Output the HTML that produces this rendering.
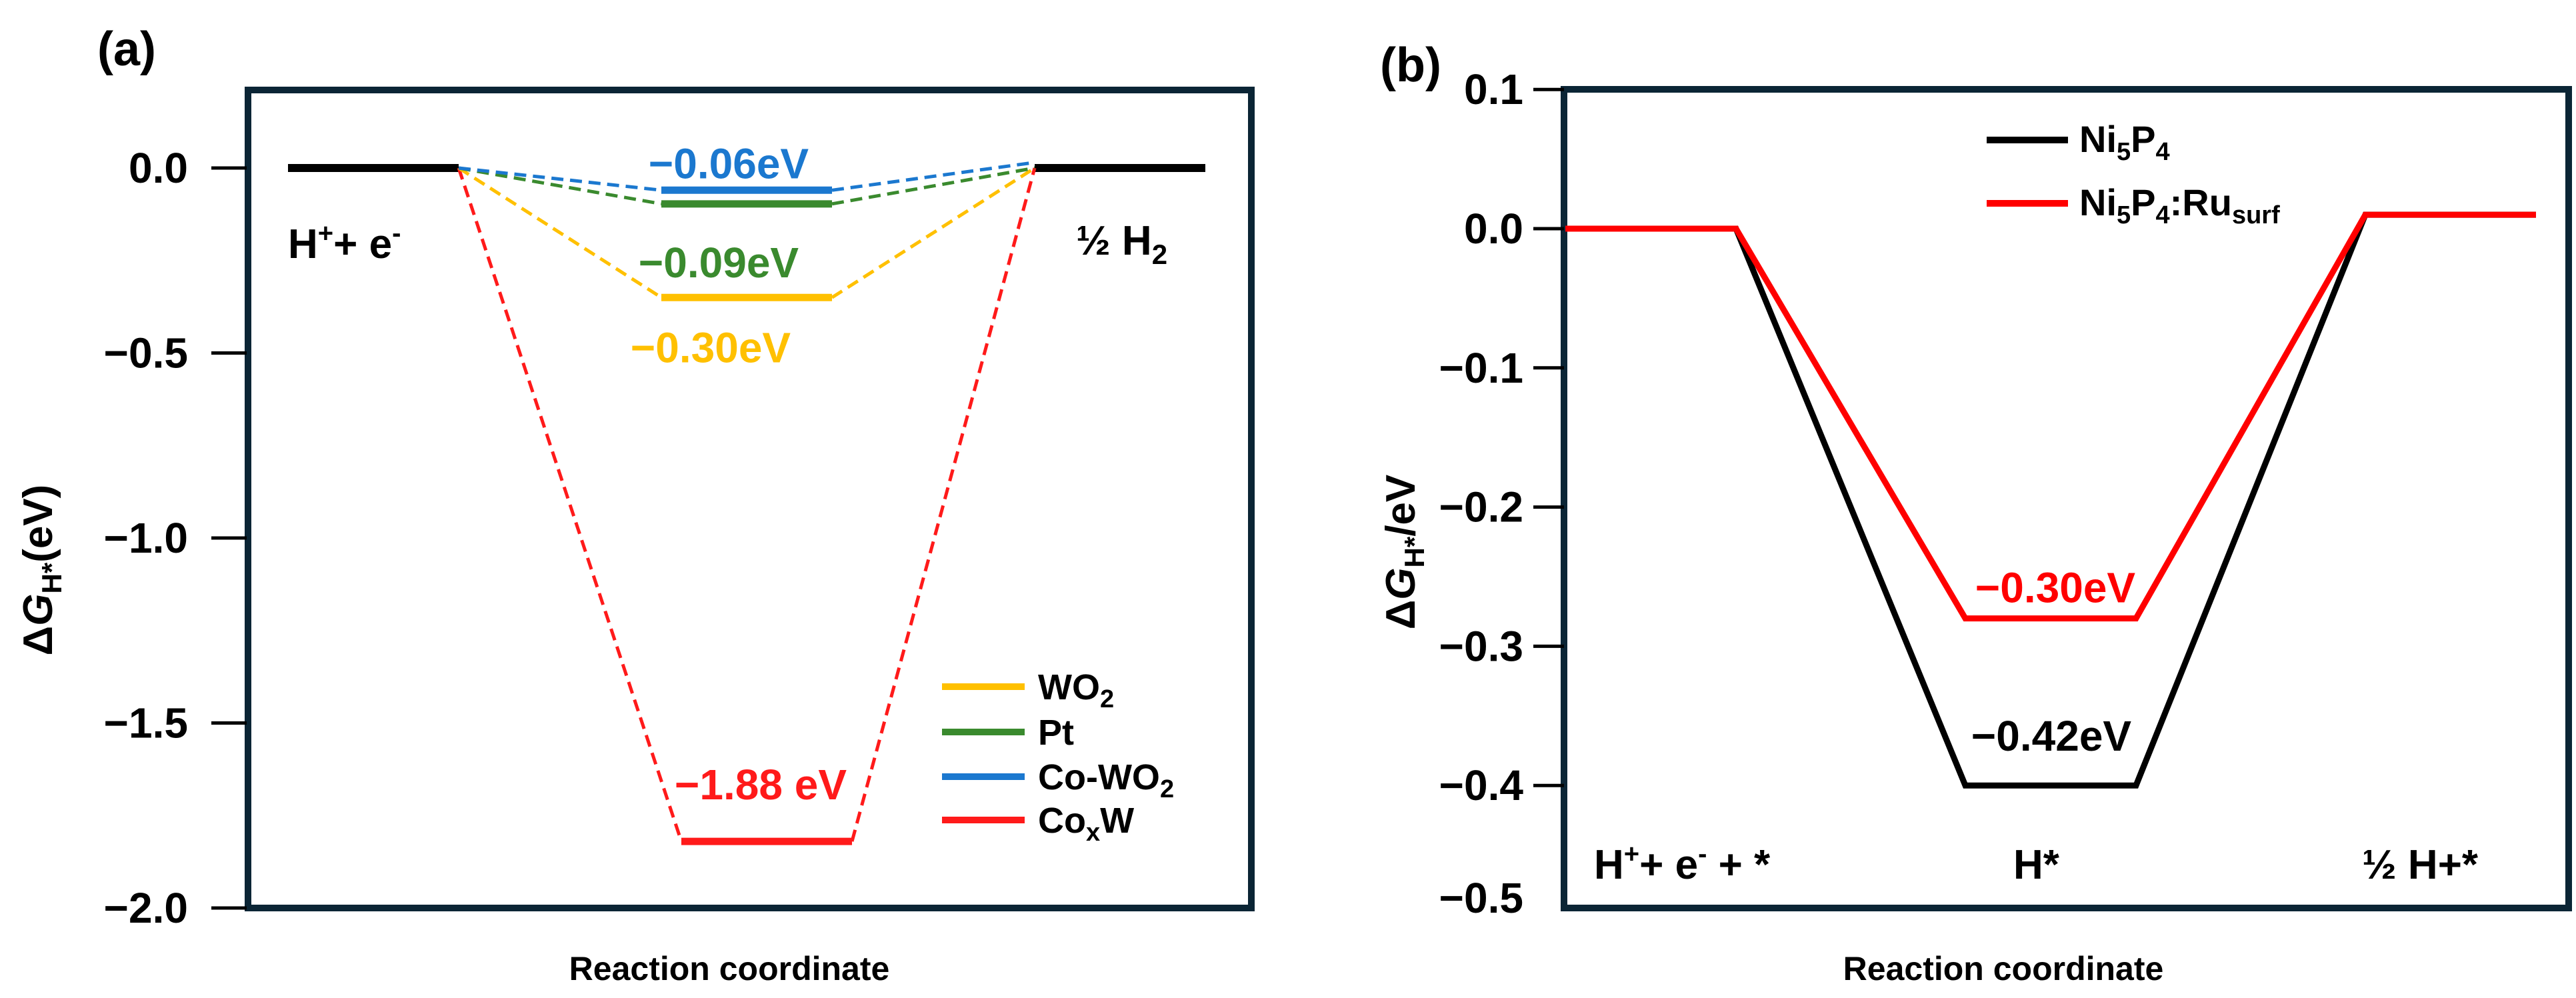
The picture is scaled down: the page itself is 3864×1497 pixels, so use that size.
<!DOCTYPE html>
<html><head><meta charset="utf-8"><style>
html,body{margin:0;padding:0;background:#fff;}
svg{display:block;font-family:"Liberation Sans",sans-serif;font-weight:bold;}
</style></head><body>
<svg id="chart" width="3864" height="1497" viewBox="0 0 3864 1497" xmlns="http://www.w3.org/2000/svg">
<g id="pa"></g>
<g id="pb"></g>
</svg>
<script>
// ---------- Panel (a) data ----------
const stagesA = ["H⁺+ e⁻", "H*", "½ H₂"];
const seriesNamesA = ["WO2", "Pt", "Co-WO2", "CoxW"];
const seriesColorsA = ["#ffc000", "#3a8a2e", "#1b78cf", "#ff1a1a"];
const valuesWO2 = [0, -0.35, 0];
const valuesPt = [0, -0.097, 0];
const valuesCoWO2 = [0, -0.06, 0.015];
const valuesCoxW = [0, -1.82, 0];
const labelsA = ["−0.30eV", "−0.09eV", "−0.06eV", "−1.88 eV"];
const ticksA = [0.0, -0.5, -1.0, -1.5, -2.0];
const tickLabelsA = ["0.0", "−0.5", "−1.0", "−1.5", "−2.0"];
// ---------- Panel (b) data ----------
const stagesB = ["H⁺+ e⁻ + *", "H*", "½ H+*"];
const valuesNi5P4 = [0, -0.40, 0.01];
const valuesRu = [0, -0.28, 0.01];
const labelsB = ["−0.42eV", "−0.30eV"];
const ticksB = [0.1, 0.0, -0.1, -0.2, -0.3, -0.4, -0.5];
const tickLabelsB = ["0.1", "0.0", "−0.1", "−0.2", "−0.3", "−0.4", "−0.5"];

const NS = "http://www.w3.org/2000/svg";
function mk(parent, tag, attrs, text) {
  const e = document.createElementNS(NS, tag);
  for (const k in attrs) e.setAttribute(k, attrs[k]);
  if (text !== undefined) e.textContent = text;
  parent.appendChild(e);
  return e;
}
const FRAME = "#0b2535";

// ================= Panel A =================
(function () {
  const g = document.getElementById("pa");
  const yA = v => 252 - v * 555;
  const xA = i => 560 + i * 560;
  const hw = 128;

  let t = mk(g, "text", {x: 146, y: 98, "font-size": 72}, "(a)");
  
  

  let fr = mk(g, "rect", {x: 372, y: 135, width: 1505, height: 1227, fill: "none", stroke: FRAME, "stroke-width": 10});
  
  

  ticksA.forEach((v, i) => {
    const tk = mk(g, "line", {x1: 317, x2: 370, y1: yA(v), y2: yA(v), stroke: "#000", "stroke-width": 5});
    
    
    const tl = mk(g, "text", {x: 282, y: yA(v), "text-anchor": "end", "dominant-baseline": "central", "font-size": 64}, tickLabelsA[i]);
    
    
  });

  const yt = mk(g, "text", {x: 0, y: 0, transform: "translate(78,855) rotate(-90)", "text-anchor": "middle", "font-size": 62});
  
  
  yt.innerHTML = 'Δ<tspan font-style="italic">G</tspan><tspan font-size="42" dy="14">H*</tspan><tspan dy="-14">(eV)</tspan>';

  const xt = mk(g, "text", {x: 1094, y: 1470, "text-anchor": "middle", "font-size": 50}, "Reaction coordinate");
  
  

  // black endpoint levels
  [0, 2].forEach(i => {
    const l = mk(g, "line", {x1: xA(i) - hw, x2: xA(i) + hw, y1: yA(0), y2: yA(0), stroke: "#000", "stroke-width": 12});
    
    
  });

  const allVals = [valuesWO2, valuesPt, valuesCoWO2, valuesCoxW];
  // draw red first (behind), then yellow, green, blue
  [3, 0, 1, 2].forEach(s => {
    const vals = allVals[s], col = seriesColorsA[s];
    const off = s === 3 ? 30 : 0;
    const sg = mk(g, "g", {});
    
    
    const d1 = mk(sg, "line", {x1: xA(0) + hw, y1: yA(vals[0]), x2: xA(1) - hw + off, y2: yA(vals[1]), stroke: col, "stroke-width": 5, "stroke-dasharray": "18 10"});
    
    
    const d2 = mk(sg, "line", {x1: xA(1) + hw + off, y1: yA(vals[1]), x2: xA(2) - hw, y2: yA(vals[2]), stroke: col, "stroke-width": 5, "stroke-dasharray": "18 10"});
    
    
    const lv = mk(sg, "line", {x1: xA(1) - hw + off, x2: xA(1) + hw + off, y1: yA(vals[1]), y2: yA(vals[1]), stroke: col, "stroke-width": 11});
    
    
  });

  // value labels
  const lab = [
    {s: 2, text: labelsA[2], x: 1093, dy: -40},
    {s: 1, text: labelsA[1], x: 1078, dy: 88},
    {s: 0, text: labelsA[0], x: 1066, dy: 75},
    {s: 3, text: labelsA[3], x: 1141, dy: -85}
  ];
  lab.forEach(o => {
    const ref = o.s === 1 ? yA(valuesPt[1]) : yA(allVals[o.s][1]);
    const e = mk(g, "text", {x: o.x, y: ref + o.dy, "text-anchor": "middle", "dominant-baseline": "central", "font-size": 64, fill: seriesColorsA[o.s]}, o.text);
    
    
  });

  const s0 = mk(g, "text", {x: 432, y: 387, "font-size": 62});
  s0.innerHTML = 'H<tspan font-size="40" dy="-24">+</tspan><tspan dy="24">+ e</tspan><tspan font-size="40" dy="-24">-</tspan>';
  
  
  const s2 = mk(g, "text", {x: 1614, y: 382, "font-size": 62});
  s2.innerHTML = '½ H<tspan font-size="42" dy="14">2</tspan>';
  
  

  // legend
  const legY = [1030, 1098, 1165, 1230];
  const legText = ['WO<tspan font-size="38" dy="12">2</tspan>', 'Pt', 'Co-WO<tspan font-size="38" dy="12">2</tspan>', 'Co<tspan font-size="38" dy="12">x</tspan><tspan dy="-12">W</tspan>'];
  seriesNamesA.forEach((n, i) => {
    const lg = mk(g, "g", {});
    
    
    mk(lg, "line", {x1: 1413, x2: 1537, y1: legY[i], y2: legY[i], stroke: seriesColorsA[i], "stroke-width": 10});
    const tx = mk(lg, "text", {x: 1557, y: legY[i] + 19, "font-size": 54});
    tx.innerHTML = legText[i];
  });
})();

// ================= Panel B =================
(function () {
  const g = document.getElementById("pb");
  const yB = v => 343 - v * 2088;
  const xB = i => 2476 + i * 600;
  const hw = 128;
  const bottom = 1362;

  const t = mk(g, "text", {x: 2070, y: 122, "font-size": 72}, "(b)");
  
  

  const fr = mk(g, "rect", {x: 2346, y: 134, width: 1507, height: 1228, fill: "none", stroke: FRAME, "stroke-width": 10});
  
  

  ticksB.forEach((v, i) => {
    const yy = Math.min(yB(v), bottom - 15);
    if (v > -0.45) {
      const tk = mk(g, "line", {x1: 2300, x2: 2346, y1: yB(v), y2: yB(v), stroke: "#000", "stroke-width": 5});
      
      
    }
    const tl = mk(g, "text", {x: 2285, y: yy, "text-anchor": "end", "dominant-baseline": "central", "font-size": 64}, tickLabelsB[i]);
    
    
  });

  const yt = mk(g, "text", {x: 0, y: 0, transform: "translate(2122,828) rotate(-90)", "text-anchor": "middle", "font-size": 62});
  yt.innerHTML = 'Δ<tspan font-style="italic">G</tspan><tspan font-size="42" dy="14">H*</tspan><tspan dy="-14">/eV</tspan>';
  
  

  const xt = mk(g, "text", {x: 3005, y: 1470, "text-anchor": "middle", "font-size": 50}, "Reaction coordinate");
  
  

  function path(vals) {
    let d = "";
    vals.forEach((v, i) => {
      d += (i === 0 ? "M" : "L") + (xB(i) - hw) + "," + yB(v) + " L" + (xB(i) + hw) + "," + yB(v) + " ";
    });
    return d;
  }
  const pb = mk(g, "path", {d: path(valuesNi5P4), fill: "none", stroke: "#000", "stroke-width": 9, "stroke-linejoin": "miter"});
  
  
  const pr = mk(g, "path", {d: path(valuesRu), fill: "none", stroke: "#ff0000", "stroke-width": 9, "stroke-linejoin": "miter"});
  
  

  const l1 = mk(g, "text", {x: 3077, y: yB(valuesNi5P4[1]) - 74, "text-anchor": "middle", "dominant-baseline": "central", "font-size": 64, fill: "#000"}, labelsB[0]);
  
  
  const l2 = mk(g, "text", {x: 3083, y: yB(valuesRu[1]) - 46, "text-anchor": "middle", "dominant-baseline": "central", "font-size": 64, fill: "#ff0000"}, labelsB[1]);
  
  

  const sl0 = mk(g, "text", {x: 2391, y: 1318, "font-size": 62});
  sl0.innerHTML = 'H<tspan font-size="40" dy="-24">+</tspan><tspan dy="24">+ e</tspan><tspan font-size="40" dy="-24">-</tspan><tspan dy="24"> + *</tspan>';
  
  
  const sl1 = mk(g, "text", {x: 3020, y: 1318, "font-size": 62}, stagesB[1]);
  
  
  const sl2 = mk(g, "text", {x: 3543, y: 1318, "font-size": 62}, stagesB[2]);
  
  

  const lg1 = mk(g, "g", {});
  
  
  mk(lg1, "line", {x1: 2980, x2: 3102, y1: 210, y2: 210, stroke: "#000", "stroke-width": 10});
  const lt1 = mk(lg1, "text", {x: 3119, y: 228, "font-size": 56});
  lt1.innerHTML = 'Ni<tspan font-size="38" dy="12">5</tspan><tspan dy="-12">P</tspan><tspan font-size="38" dy="12">4</tspan>';

  const lg2 = mk(g, "g", {});
  
  
  mk(lg2, "line", {x1: 2980, x2: 3102, y1: 305, y2: 305, stroke: "#ff0000", "stroke-width": 10});
  const lt2 = mk(lg2, "text", {x: 3119, y: 323, "font-size": 56});
  lt2.innerHTML = 'Ni<tspan font-size="38" dy="12">5</tspan><tspan dy="-12">P</tspan><tspan font-size="38" dy="12">4</tspan><tspan dy="-12">:Ru</tspan><tspan font-size="38" dy="12">surf</tspan>';
})();
</script>
</body></html>
